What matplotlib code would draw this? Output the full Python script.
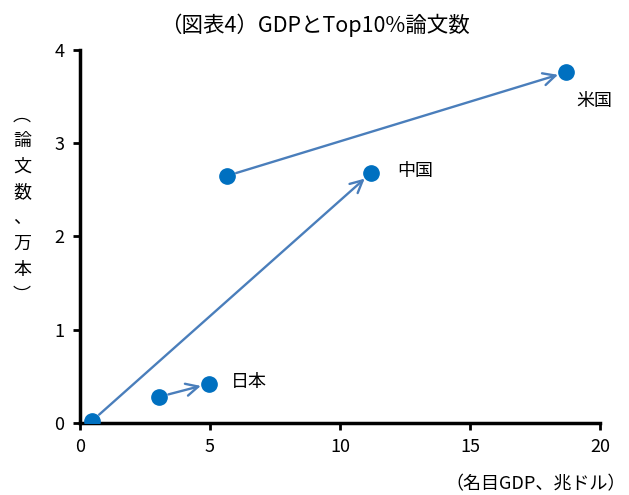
import matplotlib
matplotlib.use("Agg")
import matplotlib.pyplot as plt

plt.rcParams['font.family'] = ['Noto Sans CJK JP', 'DejaVu Sans']

countries = ['日本', '中国', '米国']
gdp_start = [3.04, 0.46, 5.65]
gdp_end = [4.96, 11.19, 18.69]
papers_start = [0.28, 0.02, 2.65]
papers_end = [0.42, 2.68, 3.76]
label_pos = [(5.8, 0.44), (12.2, 2.70), (19.1, 3.45)]

dot = '#0070C0'
arrow = '#4A7EBB'

fig = plt.figure(figsize=(6.29, 4.95), dpi=100)
ax = fig.add_axes([0.127, 0.1455, 0.827, 0.7535])

for i, name in enumerate(countries):
    ax.annotate('', xy=(gdp_end[i], papers_end[i]), xytext=(gdp_start[i], papers_start[i]),
                arrowprops=dict(arrowstyle='->', color=arrow, lw=1.7,
                                shrinkA=7, shrinkB=6, mutation_scale=22))
    ax.plot([gdp_start[i], gdp_end[i]], [papers_start[i], papers_end[i]], 'o',
            color=dot, markersize=11, linestyle='none', zorder=3)
    ax.text(label_pos[i][0], label_pos[i][1], name, fontsize=13, va='center', ha='left')

ax.set_xlim(0, 20)
ax.set_ylim(0, 4)
ax.set_xticks([0, 5, 10, 15, 20])
ax.set_yticks([0, 1, 2, 3, 4])
ax.tick_params(labelsize=13, width=2, length=5, direction='out', pad=6)
for s in ['top', 'right']:
    ax.spines[s].set_visible(False)
for s in ['left', 'bottom']:
    ax.spines[s].set_linewidth(2.5)

fig.text(0.5, 0.948, '（図表4）GDPとTop10%論文数', ha='center', va='center', fontsize=15.5)
fig.text(0.995, 0.022, '（名目GDP、兆ドル）', ha='right', va='center', fontsize=13)
fig.text(0.035, 0.585, '︵\n論\n文\n数\n、\n万\n本\n︶', ha='center', va='center',
         fontsize=13, linespacing=1.55)

fig.savefig('out.png', dpi=100)
